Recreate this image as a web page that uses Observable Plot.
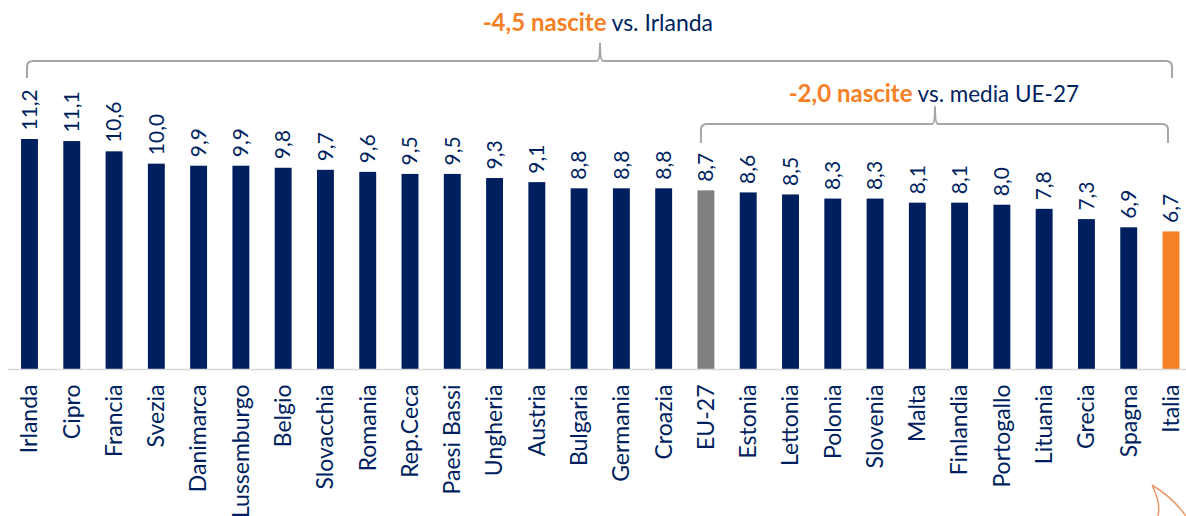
<!DOCTYPE html>
<html><head><meta charset="utf-8">
<script src="https://cdn.jsdelivr.net/npm/d3@7"></script>
<script src="https://cdn.jsdelivr.net/npm/@observablehq/plot@0.6"></script>
<style>html,body{margin:0;padding:0;background:#fff;overflow:hidden}svg{display:block}</style>
</head><body><div id="c"></div>
<script>
const countries = ["Irlanda","Cipro","Francia","Svezia","Danimarca","Lussemburgo","Belgio","Slovacchia","Romania","Rep.Ceca","Paesi Bassi","Ungheria","Austria","Bulgaria","Germania","Croazia","EU-27","Estonia","Lettonia","Polonia","Slovenia","Malta","Finlandia","Portogallo","Lituania","Grecia","Spagna","Italia"];
const values = [11.2,11.1,10.6,10.0,9.9,9.9,9.8,9.7,9.6,9.5,9.5,9.3,9.1,8.8,8.8,8.8,8.7,8.6,8.5,8.3,8.3,8.1,8.1,8.0,7.8,7.3,6.9,6.7];
const NAVY="#001f5f", ORANGE="#f58025", GREY="#808080", BR="#a6a6a6";
const rows = countries.map((c,i)=>({c,v:values[i],fill:c==="EU-27"?GREY:c==="Italia"?ORANGE:NAVY,label:values[i].toFixed(1).replace(".",",")}));
const font='Lato,"Noto Sans",sans-serif';

function bracket(from,to,levelFoot,levelArm,levelTip,off,xm){
  return (index,{x,y})=>{
    const bw=x.bandwidth(), xa=x(from)+bw/2+off[0], xb=x(to)+bw/2+off[1];
    const f=y(levelFoot), a=y(levelArm), t=y(levelTip), r=6;
    const p=d3.path();
    p.moveTo(xa,f); p.lineTo(xa,a+r); p.quadraticCurveTo(xa,a,xa+r,a); p.lineTo(xm-3,a);
    p.quadraticCurveTo(xm,a,xm,t); p.quadraticCurveTo(xm,a,xm+3,a);
    p.lineTo(xb-r,a); p.quadraticCurveTo(xb,a,xb,a+r); p.lineTo(xb,f);
    return d3.create("svg:path").attr("d",p.toString()).attr("fill","none").attr("stroke",BR).attr("stroke-width",2).node();
  };
}
const corner=()=>d3.create("svg:path").attr("d","M1152,485Q1161,503 1158,516M1152,485Q1172,497 1186,516").attr("fill","none").attr("stroke","#ea9a66").attr("stroke-width",1.5).node();
const note=(text,dx,y,anchor,color,weight,size)=>Plot.text([text],{text:d=>d,frameAnchor:"top-left",dx:dx-8,dy:y,textAnchor:anchor,fill:color,fontWeight:weight,fontSize:size,lineAnchor:"middle"});

const chart=Plot.plot({
  width:1186,height:516,marginLeft:8,marginRight:0,marginTop:0,marginBottom:147,
  style:{fontFamily:font,background:"#fff"},
  x:{domain:countries,range:[8.36,1192.14],paddingInner:0.6,paddingOuter:0.3,align:0.5,round:false,label:null,axis:null},
  y:{domain:[0,17.97],range:[369,0],axis:null,label:null},
  marks:[
    Plot.barY(rows,{x:"c",y:"v",fill:"fill"}),
    Plot.ruleY([0],{stroke:"#d9d9d9",strokeWidth:1.5}),
    Plot.text(rows,{x:"c",y:"v",text:"label",rotate:-90,textAnchor:"start",lineAnchor:"middle",dy:-9,fill:NAVY,fontSize:21}),
    Plot.text(rows,{x:"c",y:0,text:"c",rotate:-90,textAnchor:"end",lineAnchor:"middle",dy:15,fill:NAVY,fontSize:23}),
    bracket("Irlanda","Italia",14.17,15.0,15.87,[-2.5,1],600),
    bracket("EU-27","Italia",11.0,11.93,12.8,[-5,-3],935),
    note("-4,5 nascite",606,23,"end",ORANGE,700,24),
    note("vs. Irlanda",611,23,"start",NAVY,400,23),
    note("-2,0 nascite",912,94,"end",ORANGE,700,24),
    note("vs. media UE-27",917,94,"start",NAVY,400,22.5),
    corner
  ]
});
document.getElementById("c").append(chart);
</script></body></html>
